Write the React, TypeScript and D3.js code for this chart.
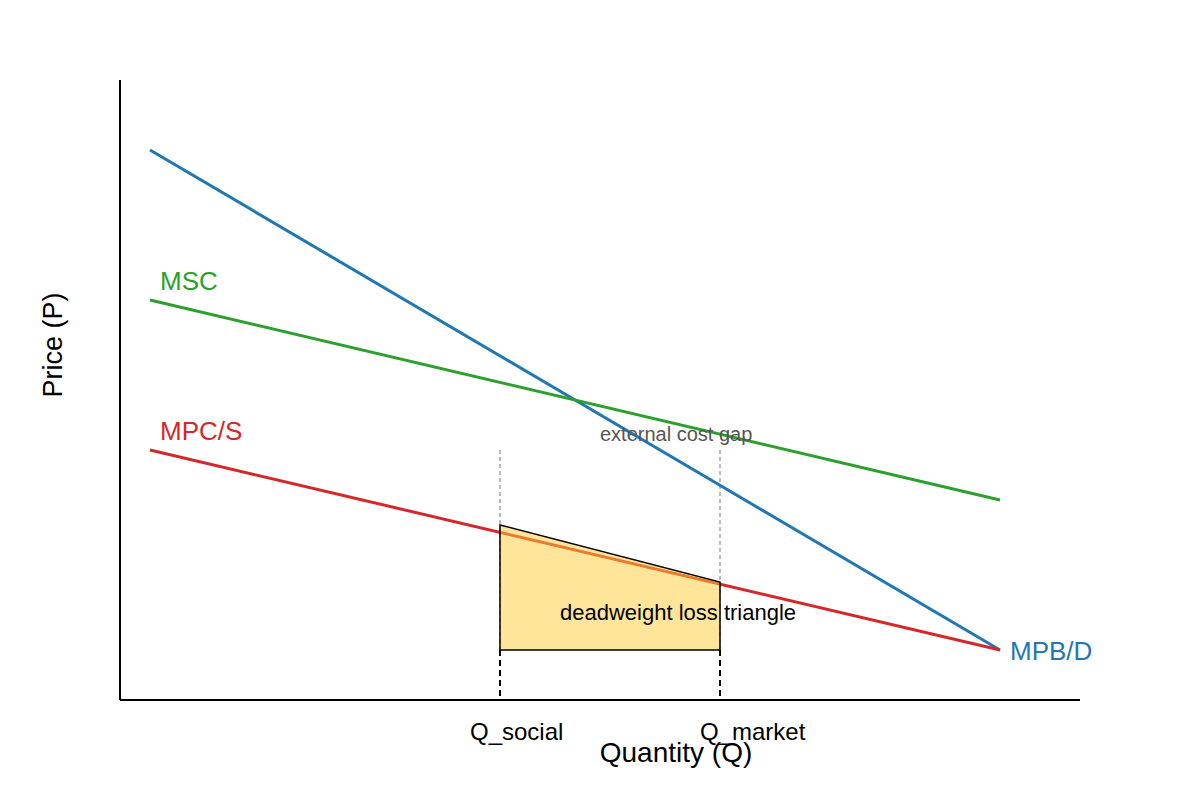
import React from "react";
import * as d3 from "d3";

const W = 1200;
const H = 800;

// Data (Q units, P units)
const qRange = [0, 96];
const pRange = [0, 62];
const curveNames = ["MPB/D", "MSC", "MPC/S"];
const curveColors = ["#1f77b4", "#2ca02c", "#d62728"];
const curveQ = [3, 88];
const mpbP = [55, 5];
const mscP = [40, 20];
const mpcP = [25, 5];
const qSocial = 38;
const qMarket = 60;
const dwlTop = [17.5, 11.8];
const dwlBase = 5;
const guideTop = 25;
const tickLabels = ["Q_social", "Q_market"];

export default function App() {
  const x = d3.scaleLinear().domain(qRange).range([120, 1080]);
  const y = d3.scaleLinear().domain(pRange).range([700, 80]);
  const line = d3
    .line<[number, number]>()
    .x((d) => x(d[0]))
    .y((d) => y(d[1]));
  const series = [mpbP, mscP, mpcP].map((ps) =>
    curveQ.map((q, i) => [q, ps[i]] as [number, number])
  );
  const poly: [number, number][] = [
    [qSocial, dwlTop[0]],
    [qMarket, dwlTop[1]],
    [qMarket, dwlBase],
    [qSocial, dwlBase],
  ];
  const polyPath = line(poly) + "Z";
  const font = "'Liberation Sans', Arial, sans-serif";
  return (
    <svg
      width={W}
      height={H}
      style={{ position: "absolute", left: 0, top: 0, background: "#fff" }}
      fontFamily={font}
    >
      {/* axes */}
      <line x1={x(0)} y1={y(0)} x2={x(0)} y2={y(pRange[1])} stroke="#000" strokeWidth={2} />
      <line x1={x(0)} y1={y(0)} x2={x(qRange[1])} y2={y(0)} stroke="#000" strokeWidth={2} />
      {/* gray guides */}
      {[qSocial, qMarket].map((q) => (
        <line
          key={"g" + q}
          x1={x(q)}
          x2={x(q)}
          y1={y(guideTop)}
          y2={y(dwlBase)}
          stroke="#999"
          strokeWidth={1.3}
          strokeDasharray="4,3"
        />
      ))}
      {/* curves */}
      {series.map((s, i) => (
        <path key={curveNames[i]} d={line(s) || ""} fill="none" stroke={curveColors[i]} strokeWidth={3} />
      ))}
      {/* deadweight loss */}
      <path d={polyPath} fill="#ffcc33" fillOpacity={0.5} stroke="#000" strokeWidth={1.5} />
      {/* black dashed below */}
      {[qSocial, qMarket].map((q) => (
        <line
          key={"b" + q}
          x1={x(q)}
          x2={x(q)}
          y1={y(dwlBase)}
          y2={y(0)}
          stroke="#000"
          strokeWidth={2}
          strokeDasharray="6,4"
        />
      ))}
      {/* curve labels */}
      <text x={x(curveQ[0]) + 10} y={y(mscP[0]) - 10} fill={curveColors[1]} fontSize={26}>
        {curveNames[1]}
      </text>
      <text x={x(curveQ[0]) + 10} y={y(mpcP[0]) - 10} fill={curveColors[2]} fontSize={26}>
        {curveNames[2]}
      </text>
      <text x={x(curveQ[1]) + 10} y={y(mpbP[1]) + 10} fill={curveColors[0]} fontSize={26}>
        {curveNames[0]}
      </text>
      <text x={600} y={441} fill="#555" fontSize={20}>
        external cost gap
      </text>
      <text x={560} y={620} fill="#000" fontSize={22}>
        deadweight loss triangle
      </text>
      <text x={x(qSocial) - 30} y={740} fontSize={24} fill="#000">
        {tickLabels[0]}
      </text>
      <text x={x(qMarket) - 20} y={740} fontSize={24} fill="#000">
        {tickLabels[1]}
      </text>
      <text x={676} y={762} fontSize={28} textAnchor="middle" fill="#000">
        Quantity (Q)
      </text>
      <text transform="translate(62,345) rotate(-90)" fontSize={27} textAnchor="middle" fill="#000">
        Price (P)
      </text>
    </svg>
  );
}
